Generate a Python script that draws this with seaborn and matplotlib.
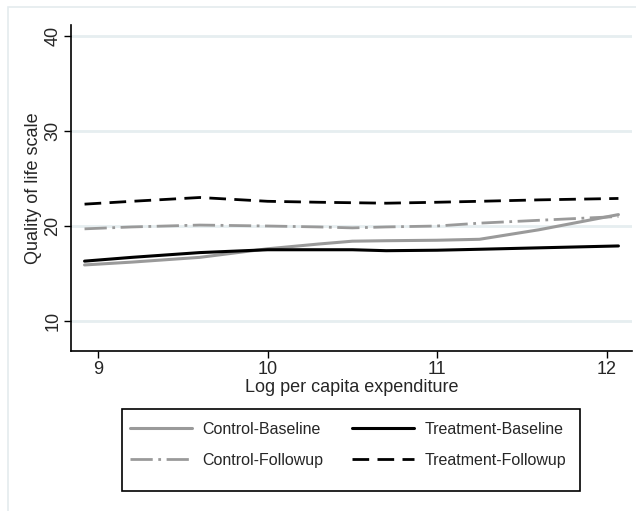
import numpy as np
import pandas as pd
import seaborn as sns
import matplotlib.pyplot as plt
from matplotlib.patches import Rectangle

# ==[ Data ]==============================================================
log_exp = [8.92, 9.2, 9.6, 10.0, 10.3, 10.5, 10.7, 11.0, 11.25, 11.6, 12.07]

control_baseline   = [15.9, 16.2, 16.7, 17.6, 18.1, 18.4, 18.45, 18.5, 18.6, 19.6, 21.2]
treatment_baseline = [16.3, 16.7, 17.2, 17.5, 17.5, 17.5, 17.4, 17.45, 17.55, 17.7, 17.9]
control_followup   = [19.7, 19.9, 20.1, 20.0, 19.9, 19.8, 19.9, 20.0, 20.3, 20.6, 21.0]
treatment_followup = [22.3, 22.6, 23.0, 22.6, 22.5, 22.45, 22.4, 22.5, 22.6, 22.75, 22.9]

series_names = ["Control-Baseline", "Treatment-Baseline",
                "Control-Followup", "Treatment-Followup"]
y_ticks = [10, 20, 30, 40]
x_ticks = [9, 10, 11, 12]

df = pd.DataFrame({
    "x": log_exp * 4,
    "y": control_baseline + treatment_baseline + control_followup + treatment_followup,
    "group": sum([[n] * len(log_exp) for n in series_names], []),
})

# ==[ Styling ]===========================================================
sns.set_style("white")
plt.rcParams['font.family'] = ['Liberation Sans', 'DejaVu Sans']

styles = {
    "Control-Baseline":   dict(color="#9a9a9a", ls="-", lw=2.2),
    "Treatment-Baseline": dict(color="black", ls="-", lw=2.2),
    "Control-Followup":   dict(color="#9a9a9a", ls=(0, (8, 2, 1, 2)), lw=2.0),
    "Treatment-Followup": dict(color="black", ls=(0, (6, 3)), lw=2.0),
}

fig = plt.figure(figsize=(6.36, 5.11), dpi=100)
# light outer frame (only top/left edge visible in the original)
fig.patches.append(Rectangle((8 / 636, -1.0), 2.0, 2 - 7 / 511, transform=fig.transFigure,
                             fill=False, ec="#e4ebee", lw=1.2))
ax = fig.add_axes([71 / 636, 1 - 351 / 511, (632 - 71) / 636, (351 - 25) / 511])

for name in series_names:
    st = styles[name]
    sns.lineplot(data=df[df.group == name], x="x", y="y", ax=ax, color=st["color"],
                 linestyle=st["ls"], linewidth=st["lw"], label=name)

ax.set_xlim(8.84, 12.15)
ax.set_ylim(6.84, 41.16)
ax.set_xticks(x_ticks)
ax.set_yticks(y_ticks)
ax.set_yticklabels([str(t) for t in y_ticks], rotation=90, va="center")
ax.tick_params(axis="both", direction="out", length=5, width=1, color="black",
               labelsize=13, pad=2, left=True, bottom=True)
ax.grid(axis="y", color="#e6eef0", lw=2)
ax.set_axisbelow(True)
for s in ["top", "right"]:
    ax.spines[s].set_visible(False)
for s in ["left", "bottom"]:
    ax.spines[s].set_color("black")
    ax.spines[s].set_linewidth(1.2)

ax.set_xlabel("Log per capita expenditure", fontsize=13, labelpad=1)
ax.set_ylabel("Quality of life scale", fontsize=13, labelpad=2)

# legend box drawn separately (Stata leaves extra room at the bottom)
fig.patches.append(Rectangle((122 / 636, 1 - 491 / 511), (580 - 122) / 636, 82 / 511,
                             transform=fig.transFigure, fill=False, ec="black", lw=1.2))
h, l = ax.get_legend_handles_labels()
order = [0, 2, 1, 3]
leg = ax.legend([h[i] for i in order], [l[i] for i in order], ncol=2,
                loc="upper center", bbox_to_anchor=(348 / 636, 1 - 414 / 511),
                bbox_transform=fig.transFigure, fontsize=11.5, frameon=False,
                handlelength=3.9, borderpad=0.0, labelspacing=1.0,
                columnspacing=1.8, handletextpad=0.65)

plt.savefig("out.png", dpi=100)
